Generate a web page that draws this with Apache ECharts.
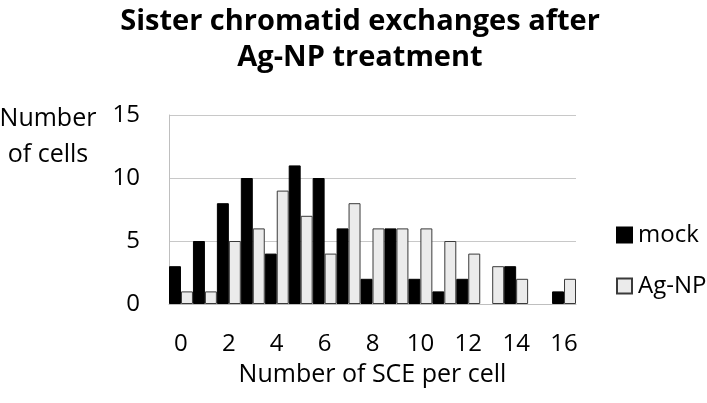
<!DOCTYPE html>
<html><head><meta charset="utf-8">
<script src="https://cdn.jsdelivr.net/npm/echarts@6/dist/echarts.min.js"></script>
<style>html,body{margin:0;padding:0;background:#fff}#c{width:707px;height:403px}</style>
</head><body><div id="c"></div>
<script>
var categories = ['0','1','2','3','4','5','6','7','8','9','10','11','12','13','14','15','16'];
var mock = [3,5,8,10,4,11,10,6,2,6,2,1,2,0,3,0,1];
var agnp = [1,1,5,6,9,7,4,8,6,6,6,5,4,3,2,0,2];
var yTicks = [0,5,10,15];
var FONT = '"Open Sans", "Noto Sans", sans-serif';
function noZero(arr){return arr.map(function(v){return v===0?null:v;});}
var chart = echarts.init(document.getElementById('c'));
chart.setOption({
  animation:false,
  backgroundColor:'#fff',
  title:{text:'Sister chromatid exchanges after\nAg-NP treatment',left:355,textAlign:'center',top:-1,
    textStyle:{fontFamily:FONT,fontSize:29,fontWeight:'bold',color:'#000',lineHeight:36}},
  legend:{orient:'vertical',left:611,top:218,itemGap:27,itemWidth:15,itemHeight:15,icon:'rect',
    textStyle:{fontFamily:FONT,fontSize:24,color:'#000',padding:[0,0,0,1]},data:['mock','Ag-NP']},
  grid:{left:169,right:131,top:115,bottom:99},
  xAxis:{type:'category',data:categories,
    name:'Number of SCE per cell',nameLocation:'middle',nameGap:58,
    nameTextStyle:{fontFamily:FONT,fontSize:25,color:'#000'},
    axisLine:{lineStyle:{color:'#bfbfbf'}},axisTick:{show:false},
    axisLabel:{interval:1,margin:28,fontFamily:FONT,fontSize:24,color:'#000'}},
  yAxis:{type:'value',min:0,max:15,interval:5,
    axisLine:{show:true,lineStyle:{color:'#bfbfbf'}},
    splitLine:{lineStyle:{color:'#c8c8c8'}},
    axisLabel:{margin:29,fontFamily:FONT,fontSize:24,color:'#000',
      formatter:function(v){return yTicks.indexOf(v)>=0?String(v):'';}}},
  series:[
    {name:'mock',type:'bar',data:noZero(mock),barGap:'0%',barCategoryGap:'0%',
      itemStyle:{color:'#000',borderColor:'#000',borderWidth:1,borderRadius:0}},
    {name:'Ag-NP',type:'bar',data:noZero(agnp),barGap:'0%',barCategoryGap:'0%',
      itemStyle:{color:'#ebebeb',borderColor:'#3a3a3a',borderWidth:1,borderRadius:0}}
  ],
  graphic:[{type:'text',x:48,y:101,style:{text:'Number\nof cells',align:'center',verticalAlign:'top',
    fontFamily:FONT,fontSize:25,lineHeight:36,fill:'#000'}}]
});
</script></body></html>
